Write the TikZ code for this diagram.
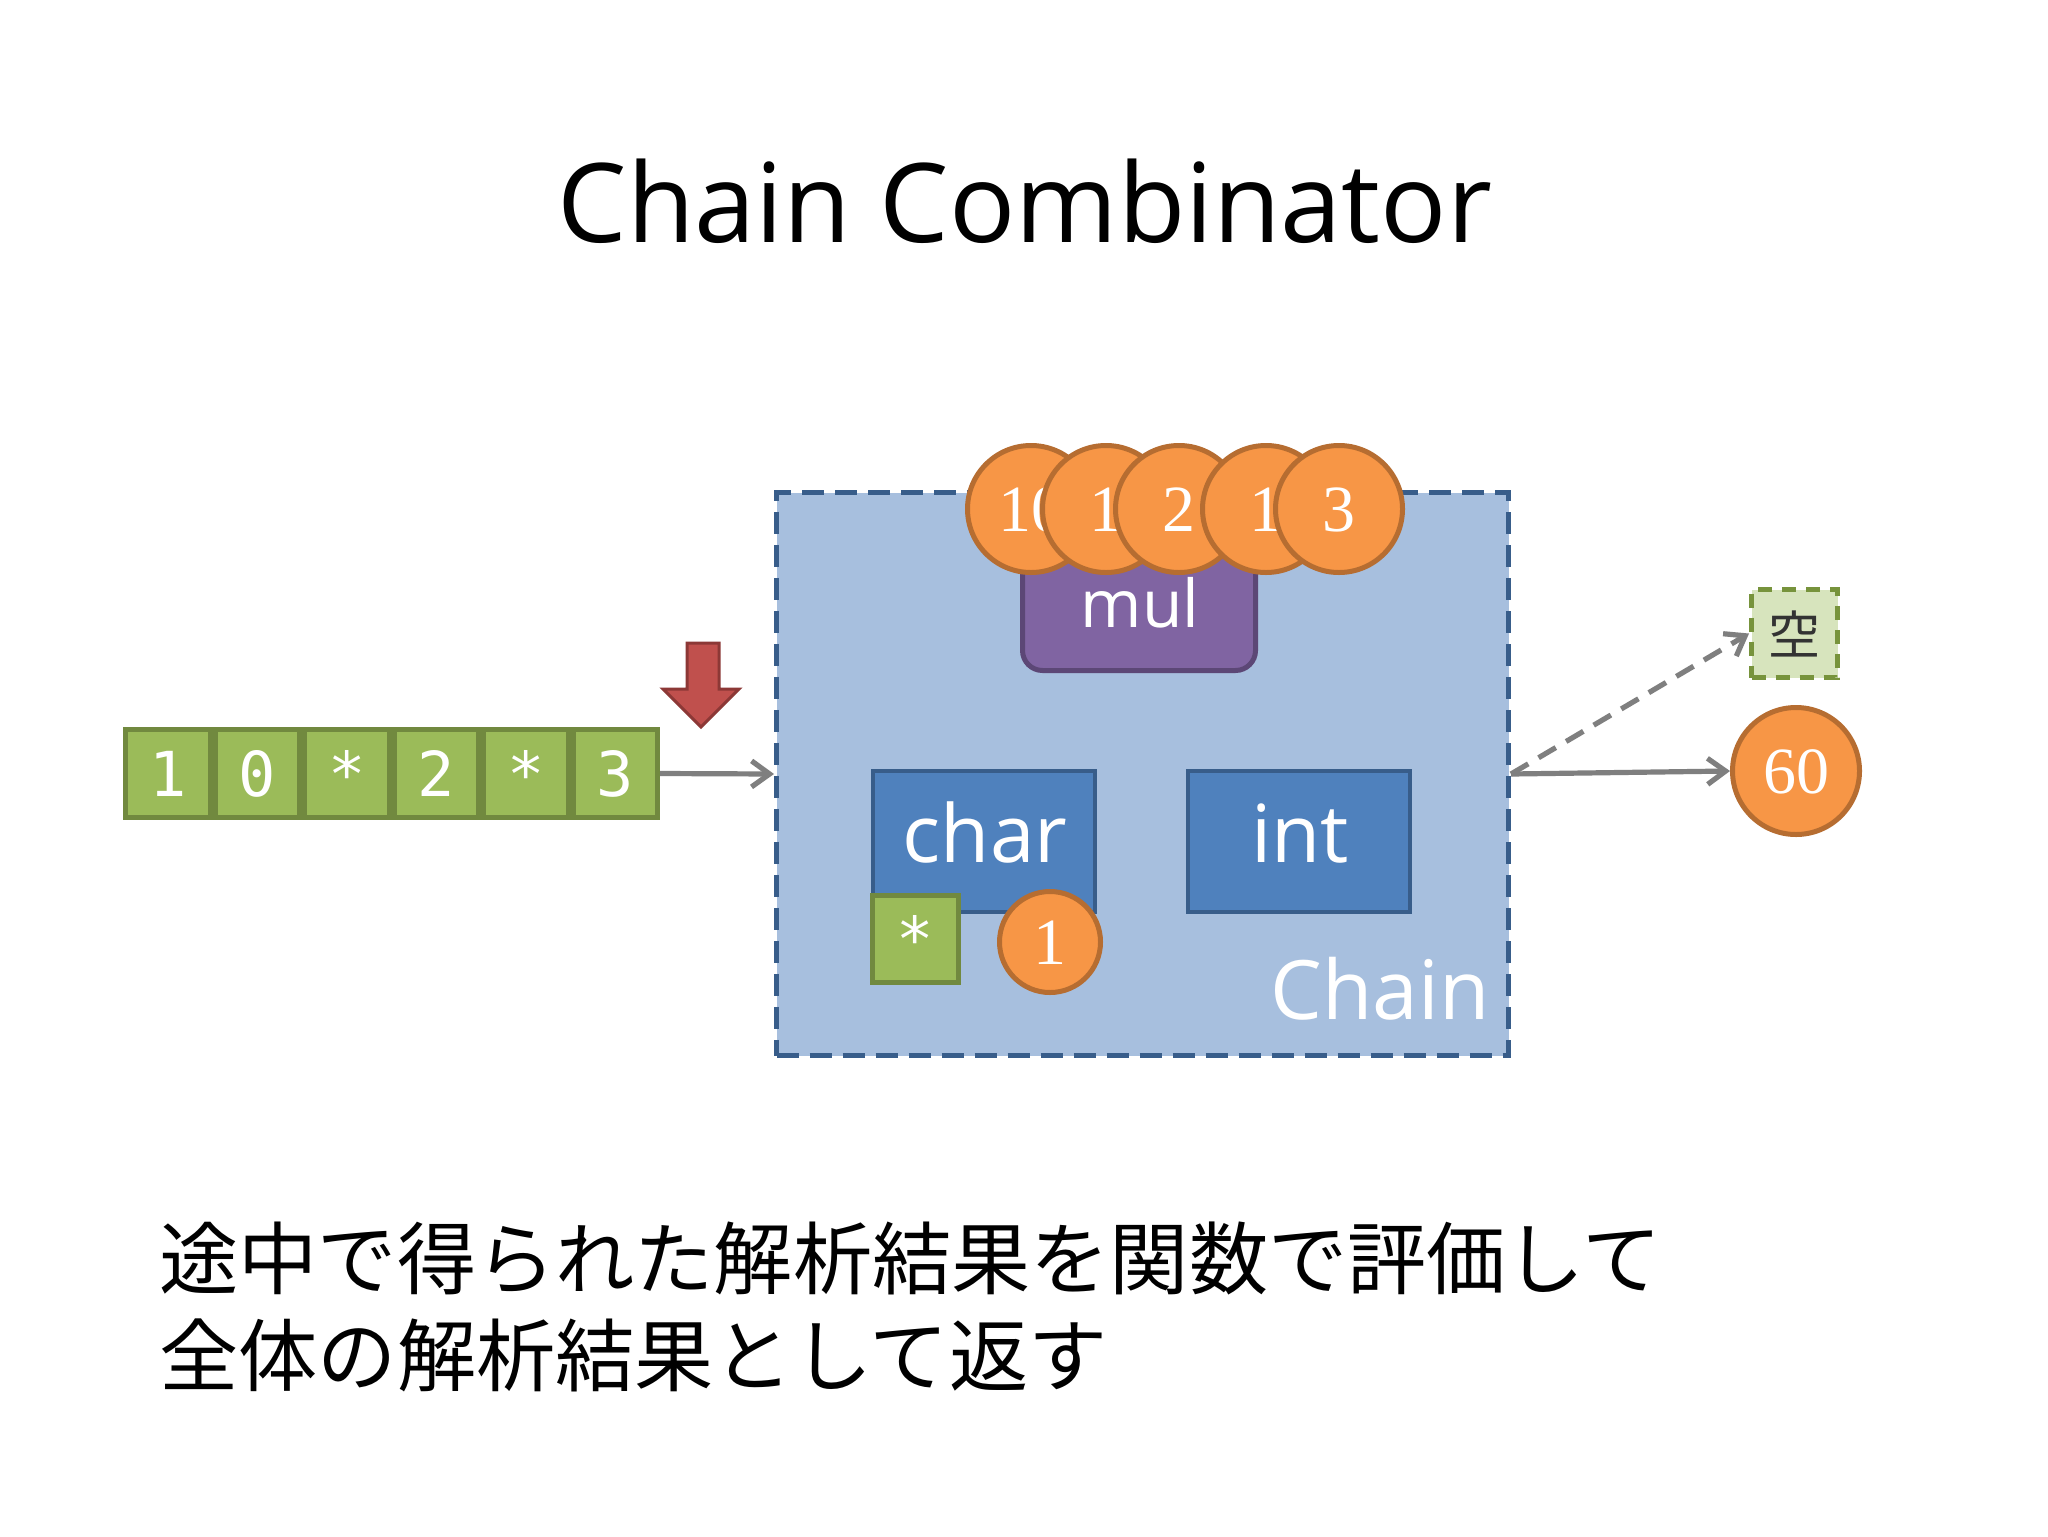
\documentclass[tikz,border=0pt]{standalone}
\usepackage{fontspec}
\setmainfont{Open Sans}
\newfontfamily\jpfont{Noto Sans CJK JP}
\newfontfamily\numfont{Liberation Serif}
\newfontfamily\cellfont{DejaVu Sans Mono}
\usetikzlibrary{arrows.meta}
\definecolor{orangefill}{HTML}{F79646}
\definecolor{orangeline}{HTML}{B66D31}
\definecolor{chainfill}{HTML}{A7BFDE}
\definecolor{chainline}{HTML}{385D8A}
\definecolor{bluefill}{HTML}{4F81BD}
\definecolor{blueline}{HTML}{385D8A}
\definecolor{purplefill}{HTML}{8064A2}
\definecolor{purpleline}{HTML}{5C4776}
\definecolor{greenfill}{HTML}{9BBB59}
\definecolor{greenline}{HTML}{71893F}
\definecolor{palegreen}{HTML}{D7E4BD}
\definecolor{palegreenline}{HTML}{77933C}
\definecolor{redfill}{HTML}{C0504D}
\definecolor{redline}{HTML}{8C3836}
\definecolor{arrowgray}{HTML}{7F7F7F}
\begin{document}
\begin{tikzpicture}[x=0.5pt,y=-0.5pt,
  token/.style={circle,draw=orangeline,fill=orangefill,line width=2.5pt,minimum size=63.5pt,inner sep=0pt,
    text=white,font=\numfont\fontsize{33}{33}\selectfont,text height=22pt,text depth=0pt},
  smalltoken/.style={token,minimum size=50.5pt},
  cell/.style={rectangle,draw=greenline,fill=greenfill,line width=2.5pt,minimum width=42.25pt,minimum height=44pt,
    inner sep=0pt,text=white,font=\cellfont\fontsize{31}{31}\selectfont,text height=22.6pt,text depth=0pt},
  parserbox/.style={rectangle,draw=blueline,fill=bluefill,line width=2pt,minimum width=111pt,minimum height=70.5pt,inner sep=0pt},
  whitelabel/.style={text=white,anchor=base,inner sep=0pt,font=\fontsize{40}{40}\selectfont},
  flow/.style={draw=arrowgray,line width=2.6pt,-{Straight Barb[length=9pt,width=13pt,line width=2.6pt]}},
  jpline/.style={anchor=west,inner sep=0pt,font=\jpfont\fontsize{39.6}{39.6}\selectfont,text height=34.8pt,text depth=4.8pt}
]
\useasboundingbox[fill=white] (0,0) rectangle (2048,1536);

% title
\node[anchor=base,inner sep=0pt,font=\fontsize{55}{55}\selectfont] (title) at (1025,242) {Chain Combinator};

% chain box
\node[rectangle,draw=chainline,fill=chainfill,line width=2.5pt,dash pattern=on 11pt off 5.5pt,
  minimum width=366pt,minimum height=281.5pt,inner sep=0pt] (chain) at (1142.5,774) {};
\node[whitelabel,font=\fontsize{41}{41}\selectfont] (chaintext) at (1380,1019) {Chain};

% mul
\node[rectangle,rounded corners=10pt,draw=purpleline,fill=purplefill,line width=2.5pt,
  minimum width=116.5pt,minimum height=64pt,inner sep=0pt] (mul) at (1139,606.5) {};
\node[whitelabel,font=\fontsize{33}{33}\selectfont] (multext) at (1140,627) {mul};

% tokens on top
\node[token] (t1) at (1031,509) {10};
\node[token] (t2) at (1106,509) {1};
\node[token] (t3) at (1179,509) {2};
\node[token] (t4) at (1266,509) {1};
\node[token] (t5) at (1339,509) {3};

% char / int
\node[parserbox] (char) at (984,841.5) {};
\node[whitelabel] (chartext) at (985,862) {char};
\node[parserbox] (int) at (1299,841.5) {};
\node[whitelabel] (inttext) at (1300,862) {int};

% consumed star and result
\node[cell,minimum width=43pt,minimum height=43.5pt] (star) at (915.5,939) {*};
\node[smalltoken] (one) at (1050,942) {1};

% input string
\node[cell] (c1) at (167.75,773.5) {1};
\node[cell] (c2) at (257.25,773.5) {0};
\node[cell] (c3) at (346.75,773.5) {*};
\node[cell] (c4) at (436.25,773.5) {2};
\node[cell] (c5) at (525.75,773.5) {*};
\node[cell] (c6) at (615.25,773.5) {3};

% red pointer arrow
\draw[fill=redfill,draw=redline,line width=1.5pt,line join=miter]
  (687,643) -- (719,643) -- (719,689) -- (739,689) -- (701,727) -- (663,689) -- (687,689) -- cycle;

% outputs
\node[token] (sixty) at (1796,771) {60};
\node[rectangle,draw=palegreenline,fill=palegreen,line width=2.5pt,dash pattern=on 7pt off 5pt,
  minimum width=43pt,minimum height=44pt,inner sep=0pt,font=\jpfont\fontsize{26}{26}\selectfont,text=black!80] (kong) at (1794.5,633.5) {空};

% connectors
\draw[flow] (c6.east) -- (chain.west);
\draw[flow] (chain.east) -- (sixty.west);
\draw[flow,dash pattern=on 10pt off 6pt] (chain.east) -- (kong.west);

% bottom text
\node[jpline] (line1) at (159,1258) {途中で得られた解析結果を関数で評価して};
\node[jpline] (line2) at (159,1355) {全体の解析結果として返す};
\end{tikzpicture}
\end{document}
